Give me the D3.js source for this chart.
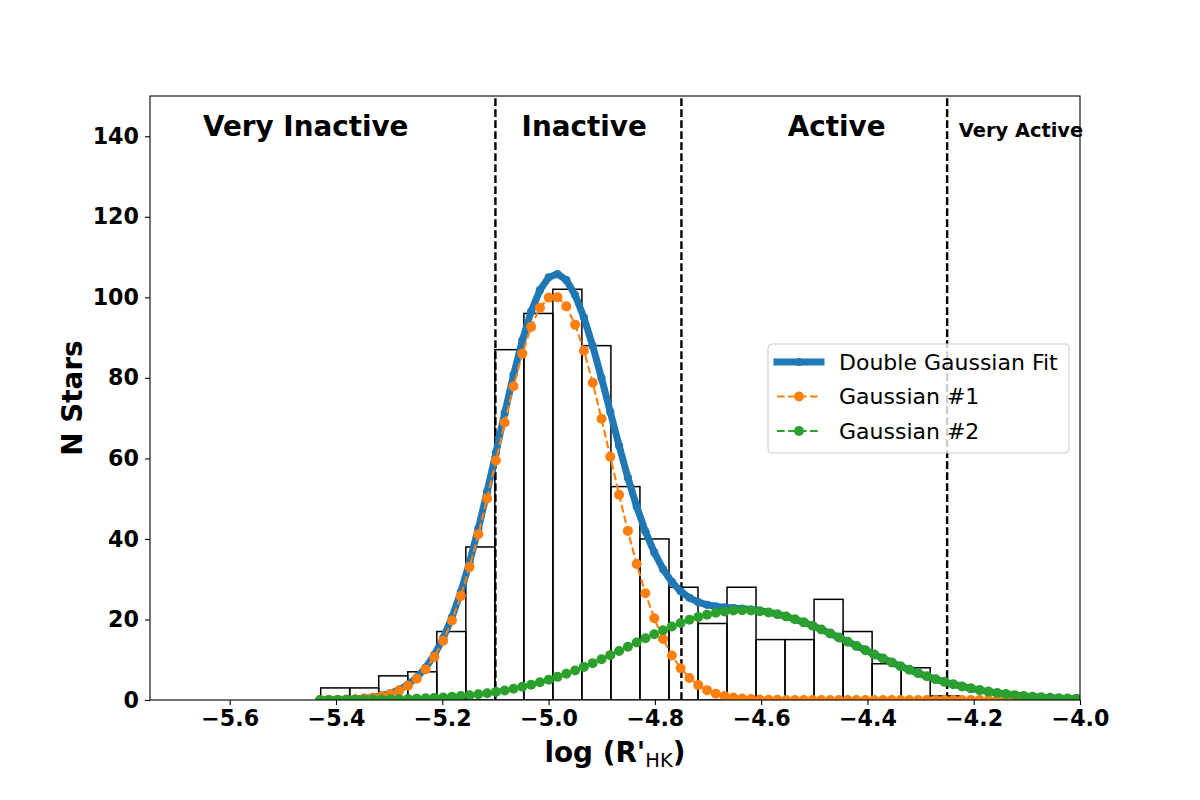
<!DOCTYPE html>
<html>
<head>
<meta charset="utf-8">
<script src="https://cdn.jsdelivr.net/npm/d3@7"></script>
<style>
    body { margin: 0; background: #fff; }
    svg { font-family: "DejaVu Sans", sans-serif; }
</style>
</head>
<body>
<div id="chart"></div>
<script>
// histogram of log R'HK values
var binEdges = [-5.4288, -5.3742, -5.3196, -5.2650, -5.2103, -5.1557, -5.1011, -5.0465,
                -4.9919, -4.9373, -4.8827, -4.8281, -4.7734, -4.7188, -4.6642, -4.6096,
                -4.5550, -4.5004, -4.4458, -4.3912, -4.3365, -4.2819, -4.2273];
var binCounts = [3, 3, 6, 7, 17, 38, 87, 96, 102, 88, 53, 40, 28, 19, 28, 15, 15, 25, 17, 9, 8, 1];

// points where the fitted curves are sampled
var fitX = [-5.4300, -5.4135, -5.3969, -5.3804, -5.3638, -5.3473, -5.3307, -5.3142, -5.2976, -5.2811,
            -5.2645, -5.2480, -5.2314, -5.2149, -5.1983, -5.1818, -5.1652, -5.1487, -5.1321, -5.1156,
            -5.0990, -5.0825, -5.0659, -5.0494, -5.0328, -5.0163, -4.9997, -4.9832, -4.9666, -4.9501,
            -4.9335, -4.9170, -4.9004, -4.8839, -4.8673, -4.8508, -4.8342, -4.8177, -4.8011, -4.7846,
            -4.7680, -4.7515, -4.7349, -4.7184, -4.7018, -4.6853, -4.6687, -4.6522, -4.6356, -4.6191,
            -4.6025, -4.5860, -4.5694, -4.5529, -4.5363, -4.5198, -4.5032, -4.4867, -4.4701, -4.4536,
            -4.4370, -4.4205, -4.4039, -4.3874, -4.3708, -4.3543, -4.3377, -4.3212, -4.3046, -4.2881,
            -4.2715, -4.2550, -4.2384, -4.2219, -4.2053, -4.1888, -4.1722, -4.1557, -4.1391, -4.1226,
            -4.1060, -4.0895, -4.0729, -4.0564, -4.0398, -4.0233, -4.0067];

var gauss1 = [0.02, 0.04, 0.06, 0.12, 0.20, 0.35, 0.58, 0.95, 1.51, 2.35,
              3.56, 5.27, 7.60, 10.70, 14.71, 19.73, 25.83, 33.00, 41.15, 50.07,
              59.46, 68.91, 77.93, 86.02, 92.66, 97.40, 99.93, 100.05, 97.76, 93.22,
              86.75, 78.79, 69.83, 60.40, 50.99, 42.00, 33.77, 26.50, 20.29, 15.16,
              11.06, 7.87, 5.47, 3.70, 2.45, 1.58, 1.00, 0.61, 0.37, 0.22,
              0.12, 0.07, 0.04, 0.02, 0.01, 0.01, 0, 0, 0, 0,
              0, 0, 0, 0, 0, 0, 0, 0, 0, 0,
              0, 0, 0, 0, 0, 0, 0, 0, 0, 0,
              0, 0, 0, 0, 0, 0, 0];

var gauss2 = [0.02, 0.03, 0.03, 0.05, 0.06, 0.08, 0.10, 0.13, 0.17, 0.21,
              0.27, 0.34, 0.42, 0.52, 0.64, 0.79, 0.97, 1.17, 1.41, 1.69,
              2.01, 2.38, 2.80, 3.27, 3.80, 4.39, 5.04, 5.75, 6.51, 7.34,
              8.22, 9.15, 10.13, 11.14, 12.17, 13.22, 14.28, 15.32, 16.35, 17.33,
              18.26, 19.13, 19.91, 20.60, 21.19, 21.66, 22.00, 22.22, 22.30, 22.24,
              22.05, 21.73, 21.29, 20.72, 20.05, 19.28, 18.44, 17.51, 16.54, 15.52,
              14.48, 13.43, 12.37, 11.33, 10.32, 9.34, 8.40, 7.51, 6.67, 5.89,
              5.17, 4.51, 3.91, 3.37, 2.89, 2.46, 2.08, 1.75, 1.46, 1.21,
              1.00, 0.82, 0.67, 0.54, 0.44, 0.35, 0.28];

var doubleFit = [0.04, 0.06, 0.10, 0.16, 0.26, 0.43, 0.68, 1.08, 1.68, 2.56,
                 3.83, 5.61, 8.02, 11.22, 15.36, 20.52, 26.80, 34.17, 42.56, 51.76,
                 61.47, 71.29, 80.73, 89.29, 96.46, 101.79, 104.97, 105.80, 104.27, 100.56,
                 94.97, 87.94, 79.96, 71.54, 63.16, 55.22, 48.05, 41.82, 36.64, 32.49,
                 29.32, 27.00, 25.38, 24.30, 23.64, 23.24, 23.00, 22.83, 22.67, 22.46,
                 22.17, 21.80, 21.33, 20.74, 20.06, 19.29, 18.44, 17.51, 16.54, 15.52,
                 14.48, 13.43, 12.37, 11.33, 10.32, 9.34, 8.40, 7.51, 6.67, 5.89,
                 5.17, 4.51, 3.91, 3.37, 2.89, 2.46, 2.08, 1.75, 1.46, 1.21,
                 1.00, 0.82, 0.67, 0.54, 0.44, 0.35, 0.28];

var xTicks = [-5.6, -5.4, -5.2, -5.0, -4.8, -4.6, -4.4, -4.2, -4.0];
var yTicks = [0, 20, 40, 60, 80, 100, 120, 140];

// activity class boundaries and labels
var boundaries = [-5.1, -4.75, -4.25];
var classNames = ["Very Inactive", "Inactive", "Active", "Very Active"];
var classX = [-5.457, -4.933, -4.458, -4.228];
var classY = 140.1;

var seriesNames = ["Double Gaussian Fit", "Gaussian #1", "Gaussian #2"];

var width = 1200,
    height = 800,
    margin = {top: 96, right: 120, bottom: 100, left: 150};

var svg = d3.select("#chart").append("svg")
                .attr("width", width)
                .attr("height", height);

var x = d3.scaleLinear()
            .domain([-5.75, -4.0])
            .range([margin.left, width - margin.right]);

var y = d3.scaleLinear()
            .domain([0, 150])
            .range([height - margin.bottom, margin.top]);

svg.append("defs").append("clipPath")
        .attr("id", "plotClip")
    .append("rect")
        .attr("x", x.range()[0])
        .attr("y", y.range()[1])
        .attr("width", x.range()[1] - x.range()[0])
        .attr("height", y.range()[0] - y.range()[1]);

var plot = svg.append("g").attr("clip-path", "url(#plotClip)");

// histogram bars
plot.append("g")
    .selectAll("rect")
    .data(binCounts)
    .join("rect")
        .attr("x", (d, i) => x(binEdges[i]))
        .attr("y", d => y(d))
        .attr("width", (d, i) => x(binEdges[i + 1]) - x(binEdges[i]))
        .attr("height", d => y(0) - y(d))
        .style("fill", "none")
        .style("stroke", "#000")
        .style("stroke-width", 1.5);

// class boundaries
plot.append("g")
    .selectAll("line")
    .data(boundaries)
    .join("line")
        .attr("x1", d => x(d))
        .attr("x2", d => x(d))
        .attr("y1", y(0))
        .attr("y2", y(150))
        .style("stroke", "#000")
        .style("stroke-width", 2.4)
        .style("stroke-dasharray", "7.7,3.3");

var series = [
    {values: doubleFit, color: "#1f77b4", width: 7, dash: null, r: 4.1},
    {values: gauss1, color: "#ff7f0e", width: 2.1, dash: "7.7,3.3", r: 5},
    {values: gauss2, color: "#2ca02c", width: 2.1, dash: "7.7,3.3", r: 5}
];

var line = d3.line()
                .x((d, i) => x(fitX[i]))
                .y(d => y(d));

series.forEach(function (s) {
    var g = plot.append("g");
    g.append("path")
        .attr("d", line(s.values))
        .style("fill", "none")
        .style("stroke", s.color)
        .style("stroke-width", s.width)
        .style("stroke-linejoin", "round")
        .style("stroke-dasharray", s.dash);
    g.selectAll("circle")
        .data(s.values)
        .join("circle")
            .attr("cx", (d, i) => x(fitX[i]))
            .attr("cy", d => y(d))
            .attr("r", s.r)
            .style("fill", s.color);
});

// axes
var xAxis = svg.append("g")
                .attr("transform", "translate(0," + y(0) + ")")
                .call(d3.axisBottom(x)
                        .tickValues(xTicks)
                        .tickFormat(d3.format(".1f"))
                        .tickSize(5)
                        .tickSizeOuter(0)
                        .tickPadding(5));

var yAxis = svg.append("g")
                .attr("transform", "translate(" + x(-5.75) + ",0)")
                .call(d3.axisLeft(y)
                        .tickValues(yTicks)
                        .tickFormat(d3.format("d"))
                        .tickSize(5)
                        .tickSizeOuter(0)
                        .tickPadding(6));

[xAxis, yAxis].forEach(function (a) {
    a.select(".domain").remove();
    a.selectAll(".tick line").style("stroke", "#000").style("stroke-width", 1.1);
    a.selectAll(".tick text")
        .style("font-family", "DejaVu Sans")
        .style("font-size", "22.2px")
        .style("font-weight", "bold")
        .style("fill", "#000");
});

svg.append("rect")
    .attr("x", x.range()[0])
    .attr("y", y.range()[1])
    .attr("width", x.range()[1] - x.range()[0])
    .attr("height", y.range()[0] - y.range()[1])
    .style("fill", "none")
    .style("stroke", "#000")
    .style("stroke-width", 1.1);

// class labels
svg.append("g")
    .selectAll("text")
    .data(classNames)
    .join("text")
        .attr("x", (d, i) => x(classX[i]))
        .attr("y", (d, i) => y(classY) + (i === 3 ? 1.5 : 0))
        .attr("text-anchor", (d, i) => i === 3 ? "start" : "middle")
        .style("font-size", (d, i) => i === 3 ? "19.4px" : "27.8px")
        .style("font-weight", "bold")
        .text(d => d);

// axis labels
var xLabel = svg.append("text")
                .attr("x", (x.range()[0] + x.range()[1]) / 2)
                .attr("y", 762)
                .attr("text-anchor", "middle")
                .style("font-size", "27.8px")
                .style("font-weight", "bold");
xLabel.append("tspan").text("log (R'");
xLabel.append("tspan")
        .attr("dy", 5)
        .style("font-size", "19.5px")
        .style("font-weight", "normal")
        .text("HK");
xLabel.append("tspan").attr("dy", -5).text(")");

svg.append("text")
    .attr("transform", "translate(82," + (y.range()[0] + y.range()[1]) / 2 + ") rotate(-90)")
    .attr("text-anchor", "middle")
    .style("font-size", "27.8px")
    .style("font-weight", "bold")
    .text("N Stars");

// legend
var legend = svg.append("g").attr("transform", "translate(768,344)");

legend.append("rect")
        .attr("width", 301)
        .attr("height", 109)
        .attr("rx", 4)
        .style("fill", "#fff")
        .style("fill-opacity", 0.8)
        .style("stroke", "#ccc")
        .style("stroke-width", 1.1);

var rows = legend.selectAll("g.row")
                    .data(series)
                    .join("g")
                        .attr("class", "row")
                        .attr("transform", (d, i) => "translate(0," + (18 + i * 34.5) + ")");

rows.append("line")
        .attr("x1", 9)
        .attr("x2", 53)
        .style("stroke", d => d.color)
        .style("stroke-width", d => d.width)
        .style("stroke-linecap", d => d.dash ? "butt" : "square")
        .style("stroke-dasharray", d => d.dash);

rows.append("circle")
        .attr("cx", 31)
        .attr("r", d => d.r)
        .style("fill", d => d.color);

rows.append("text")
        .attr("x", 71)
        .attr("dy", "0.36em")
        .style("font-size", "22px")
        .text((d, i) => seriesNames[i]);
</script>
</body>
</html>
